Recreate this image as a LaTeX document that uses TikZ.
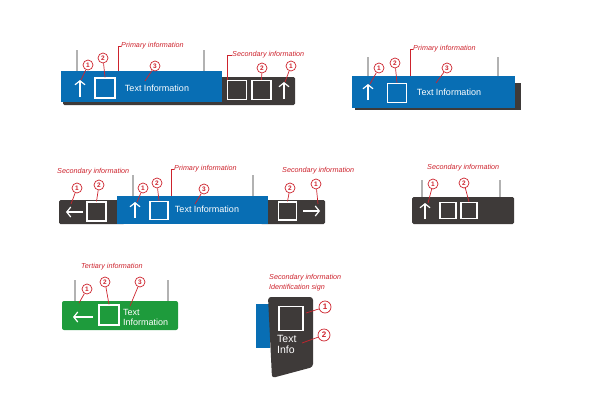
\documentclass[tikz,border=0pt]{standalone}
\usepackage{fontspec}
\setmainfont{Liberation Sans}
\usetikzlibrary{arrows.meta}
\definecolor{signblue}{RGB}{8,110,180}
\definecolor{signdark}{RGB}{62,58,57}
\definecolor{signgreen}{RGB}{30,155,60}
\definecolor{signred}{RGB}{205,35,45}
\definecolor{postgray}{RGB}{178,178,178}
\begin{document}
\begin{tikzpicture}[x=1pt, y=-1pt,
    signpost/.style={draw=postgray, line width=1.2pt},
    paneldark/.style={fill=signdark, rounded corners=1.5pt},
    sqbox/.style={draw=white, line width=1.2pt, minimum size=#1, inner sep=0pt},
    symarrow/.style={draw=white, line width=1.2pt, -{Straight Barb[length=4pt, width=10pt]}},
    signtxt/.style={text=white, inner sep=0pt, font=\fontsize{9}{10}\selectfont},
    numcirc/.style={circle, draw=signred, line width=0.7pt, inner sep=0pt, minimum size=10pt,
                    text=signred, font=\fontsize{6.5}{6.5}\selectfont\bfseries},
    lead/.style={draw=signred, line width=0.7pt},
    notelabel/.style={text=signred, anchor=west, inner sep=0pt, font=\fontsize{7.2}{10}\selectfont\itshape}]
    \useasboundingbox (0,0) rectangle (599,415);

    % Tafel 1: Primaer + Sekundaer
    \draw[signpost] (77,50) -- (77,71);
    \draw[signpost] (204,50) -- (204,71);
    \fill[paneldark] (63,77) rectangle (295,105);
    \fill[signblue] (61,71) rectangle (222,102);
    \draw[symarrow] (80,97) -- (80,80);
    \node[sqbox=20pt] (sq1a) at (105,88) {};
    \node[signtxt] (tx1) at (157,88) {Text Information};
    \node[sqbox=19pt] (sq1b) at (237,90) {};
    \node[sqbox=19pt] (sq1c) at (261.5,90) {};
    \draw[symarrow] (284,99) -- (284,82);
    \coordinate (p1a) at (81,80);
    \coordinate (p1c) at (145,81);
    \coordinate (p1e) at (285,82);
    \node[numcirc] (c1a) at (88,65) {1};
    \node[numcirc] (c1b) at (103,58) {2};
    \node[numcirc] (c1c) at (155,66) {3};
    \node[numcirc] (c1d) at (262,68) {2};
    \node[numcirc] (c1e) at (291,66) {1};
    \draw[lead] (c1a) -- (p1a);
    \draw[lead] (c1b) -- (sq1a.north);
    \draw[lead] (c1c) -- (p1c);
    \draw[lead] (c1d) -- (sq1c.north);
    \draw[lead] (c1e) -- (p1e);
    \node[notelabel] (n1a) at (121,46) {Primary information};
    \node[notelabel] (n1b) at (232,55) {Secondary information};
    \draw[lead] (n1a.west) -| (118,71);
    \draw[lead] (n1b.west) -| (sq1b.north west);

    % Tafel 2: nur Primaer
    \draw[signpost] (368,57) -- (368,76);
    \draw[signpost] (498,57) -- (498,76);
    \fill[signdark] (355,83) rectangle (521,110);
    \fill[signblue] (352,76) rectangle (515,108);
    \draw[symarrow] (368,100) -- (368,84);
    \node[sqbox=19pt] (sq2a) at (397,93) {};
    \node[signtxt] (tx2) at (449,92) {Text Information};
    \coordinate (p2a) at (370,84);
    \coordinate (p2c) at (436,83);
    \node[numcirc] (c2a) at (379,68) {1};
    \node[numcirc] (c2b) at (395,63) {2};
    \node[numcirc] (c2c) at (447,68) {3};
    \draw[lead] (c2a) -- (p2a);
    \draw[lead] (c2b) -- (sq2a.north);
    \draw[lead] (c2c) -- (p2c);
    \node[notelabel] (n2a) at (413,49) {Primary information};
    \draw[lead] (n2a.west) -| (410,76);

    % Tafel 3: Sekundaer - Primaer - Sekundaer
    \draw[signpost] (133,175) -- (133,196);
    \draw[signpost] (253,175) -- (253,196);
    \fill[paneldark] (59,200) rectangle (125,224);
    \fill[paneldark] (260,200) rectangle (325,224);
    \fill[signblue] (117,196) rectangle (268,224);
    \draw[symarrow] (83,212) -- (66,212);
    \node[sqbox=19pt] (sq3a) at (96.5,211.5) {};
    \draw[symarrow] (135,218) -- (135,202);
    \node[sqbox=18pt] (sq3b) at (159,210.5) {};
    \node[signtxt] (tx3) at (207,209) {Text Information};
    \node[sqbox=18pt] (sq3c) at (287.5,211) {};
    \draw[symarrow] (303,211) -- (320,211);
    \coordinate (p3a) at (71,204);
    \coordinate (p3c) at (137,202);
    \coordinate (p3e) at (195,204);
    \coordinate (p3g) at (318,204);
    \node[numcirc] (c3a) at (77,188) {1};
    \node[numcirc] (c3b) at (99,185) {2};
    \node[numcirc] (c3c) at (143,188) {1};
    \node[numcirc] (c3d) at (157,183) {2};
    \node[numcirc] (c3e) at (204,189) {3};
    \node[numcirc] (c3f) at (290,188) {2};
    \node[numcirc] (c3g) at (316,184) {1};
    \draw[lead] (c3a) -- (p3a);
    \draw[lead] (c3b) -- (sq3a.north);
    \draw[lead] (c3c) -- (p3c);
    \draw[lead] (c3d) -- (sq3b.north);
    \draw[lead] (c3e) -- (p3e);
    \draw[lead] (c3f) -- (sq3c.north);
    \draw[lead] (c3g) -- (p3g);
    \node[notelabel] (n3a) at (57,172) {Secondary information};
    \node[notelabel] (n3b) at (174,169) {Primary information};
    \node[notelabel] (n3c) at (282,171) {Secondary information};
    \draw[lead] (n3b.west) -| (171,196);

    % Tafel 4: nur Sekundaer
    \draw[signpost] (422,180) -- (422,197);
    \draw[signpost] (500,180) -- (500,197);
    \fill[paneldark] (412,197) rectangle (514,224);
    \draw[symarrow] (425,219) -- (425,203);
    \node[sqbox=16pt] (sq4a) at (448,210.5) {};
    \node[sqbox=16pt] (sq4b) at (469,210.5) {};
    \coordinate (p4a) at (428,203);
    \node[numcirc] (c4a) at (433,184) {1};
    \node[numcirc] (c4b) at (464,183) {2};
    \draw[lead] (c4a) -- (p4a);
    \draw[lead] (c4b) -- (sq4b.north);
    \node[notelabel] (n4a) at (427,168) {Secondary information};

    % Tafel 5: Tertiaer
    \draw[signpost] (75,280) -- (75,301);
    \draw[signpost] (168,280) -- (168,301);
    \fill[signgreen, rounded corners=2pt] (62,301) rectangle (178,330);
    \draw[symarrow] (93,317) -- (73,317);
    \node[sqbox=20pt] (sq5a) at (109,315) {};
    \node[signtxt, anchor=west, align=left] (tx5) at (123,317) {Text\\Information};
    \coordinate (p5a) at (79,303);
    \coordinate (p5c) at (130,306);
    \node[numcirc] (c5a) at (87,289) {1};
    \node[numcirc] (c5b) at (105,282) {2};
    \node[numcirc] (c5c) at (140,282) {3};
    \draw[lead] (c5a) -- (p5a);
    \draw[lead] (c5b) -- (sq5a.north);
    \draw[lead] (c5c) -- (p5c);
    \node[notelabel] (n5a) at (81,267) {Tertiary information};

    % Tafel 6: Identifikation
    \fill[signblue] (256,304) rectangle (270,348);
    \fill[signdark, rounded corners=3pt] (268,297) -- (313,297) -- (313,367) -- (272,378) -- cycle;
    \node[sqbox=24pt] (sq6a) at (291,318.5) {};
    \node[signtxt, anchor=north west, align=left, font=\fontsize{10.5}{11}\selectfont] (tx6) at (277,335) {Text\\Info};
    \coordinate (p6a) at (306,313);
    \coordinate (p6b) at (302,343);
    \node[numcirc, minimum size=12pt, font=\fontsize{8}{8}\selectfont\bfseries] (c6a) at (325,307) {1};
    \node[numcirc, minimum size=12pt, font=\fontsize{8}{8}\selectfont\bfseries] (c6b) at (324,335) {2};
    \draw[lead] (c6a) -- (p6a);
    \draw[lead] (c6b) -- (p6b);
    \node[notelabel, align=left] (n6a) at (269,283) {Secondary information\\Identification sign};
\end{tikzpicture}
\end{document}
